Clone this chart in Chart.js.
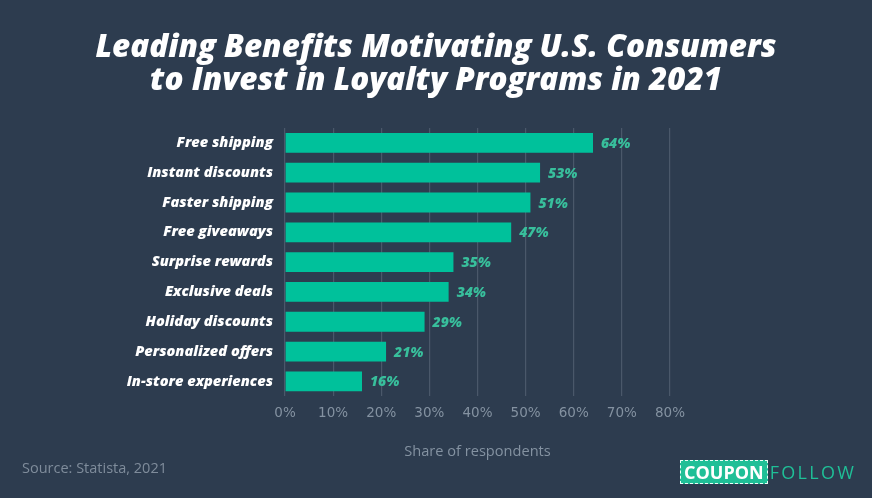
<!DOCTYPE html>
<html>
<head>
<meta charset="utf-8">
<script src="https://cdn.jsdelivr.net/npm/chart.js@4.4.1/dist/chart.umd.min.js"></script>
<style>
  html, body { margin:0; padding:0; background:#2d3c4f; }
  #wrap { position:relative; width:872px; height:498px; overflow:hidden; background:#2d3c4f; }
  #c { position:absolute; left:0; top:0; }
  #title { position:absolute; left:0; width:872px; top:29px; text-align:center; color:#fff;
    font-family:"Open Sans", sans-serif; font-weight:800; font-style:italic; font-size:31.4px; line-height:32.5px; }
  #source { position:absolute; left:22px; top:458px; color:#7f8c9b; font-family:"Open Sans", sans-serif; font-size:14.5px; }
  #logo { position:absolute; left:680px; top:460px; font-family:"Open Sans", sans-serif; font-size:18px; line-height:20px; }
  #logo .box { display:inline-block; background:#1fbf97; color:#fff; font-weight:700; padding:1px 3px; border:1.5px dashed #e8fff8; letter-spacing:0px; }
  #logo .f { color:#1fbf97; margin-left:2px; letter-spacing:2.3px; }
</style>
</head>
<body>
<div id="wrap">
  <canvas id="c" width="872" height="498"></canvas>
  <div id="title">Leading Benefits Motivating U.S. Consumers<br>to Invest in Loyalty Programs in 2021</div>
  <div id="source">Source: Statista, 2021</div>
  <div id="logo"><span class="box">COUPON</span><span class="f">FOLLOW</span></div>
</div>
<script>
const categories = ["Free shipping","Instant discounts","Faster shipping","Free giveaways","Surprise rewards","Exclusive deals","Holiday discounts","Personalized offers","In-store experiences"];
const shares = [64, 53, 51, 47, 35, 34, 29, 21, 16];
const xTicks = ["0%","10%","20%","30%","40%","50%","60%","70%","80%"];

const valueLabels = {
  id: 'valueLabels',
  afterDatasetsDraw(chart) {
    const ctx = chart.ctx;
    const meta = chart.getDatasetMeta(0);
    ctx.save();
    ctx.font = 'italic 800 14px "Open Sans", sans-serif';
    ctx.fillStyle = '#38bf9c';
    ctx.textAlign = 'left';
    ctx.textBaseline = 'middle';
    meta.data.forEach((bar, i) => {
      ctx.fillText(shares[i] + '%', bar.x + 8, bar.y + 1);
    });
    ctx.restore();
  }
};

new Chart(document.getElementById('c'), {
  type: 'bar',
  data: {
    labels: categories,
    datasets: [{
      data: shares,
      backgroundColor: '#00c19b',
      borderWidth: 0,
      categoryPercentage: 1,
      barPercentage: 0.665
    }]
  },
  options: {
    indexAxis: 'y',
    responsive: false,
    animation: false,
    devicePixelRatio: 1,
    layout: { padding: { top: 128, right: 202, bottom: 37, left: 0 } },
    plugins: { legend: { display: false }, tooltip: { enabled: false } },
    scales: {
      x: {
        min: 0, max: 80,
        border: { display: false },
        grid: { color: '#4a586a', lineWidth: 1.2, drawTicks: false },
        ticks: {
          stepSize: 10,
          padding: 9,
          color: '#8492a1',
          font: { family: '"DejaVu Sans", sans-serif', size: 13.5 },
          callback: (v, i) => xTicks[i]
        },
        title: {
          display: true,
          text: 'Share of respondents',
          color: '#8492a1',
          font: { family: '"Open Sans", sans-serif', size: 14.6 },
          padding: { top: 13, bottom: 0 }
        }
      },
      y: {
        border: { display: false },
        grid: { display: false },
        afterFit(scale) { scale.width = 285; },
        ticks: {
          padding: 4,
          color: '#ffffff',
          font: { family: '"Open Sans", sans-serif', size: 14.6, weight: '800', style: 'italic' }
        }
      }
    }
  },
  plugins: [valueLabels]
});
</script>
</body>
</html>
